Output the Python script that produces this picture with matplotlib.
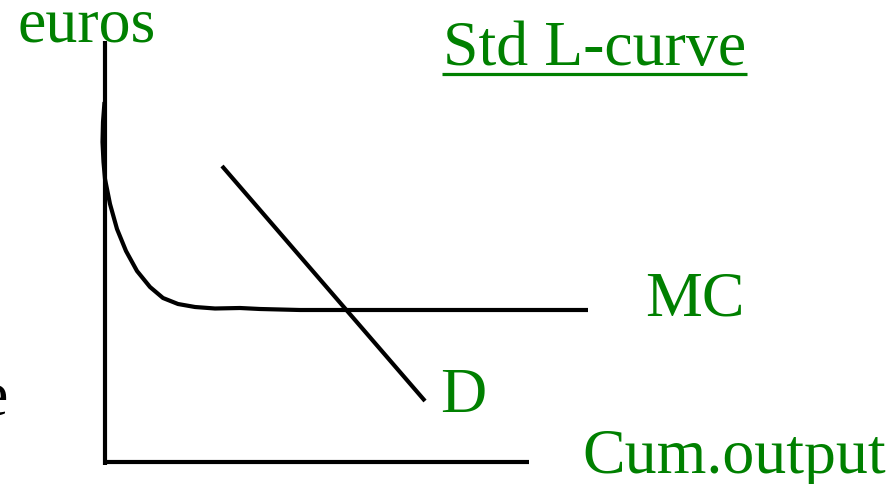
import matplotlib
matplotlib.use("Agg")
import matplotlib.pyplot as plt

# Diagram coordinates: origin at the corner of the axes, x = cumulative output, y = euros
mc_x = [-0.5, -2, -2.5, -1.5, 0, 5, 12, 21, 32, 45, 58, 73, 90, 110, 135, 155, 195, 483]
mc_y = [360, 340, 320, 300, 283, 258, 233, 211, 191, 175, 164, 158, 155, 153.5, 154, 153, 152, 152]

d_x = [117, 320]
d_y = [296, 61]

yaxis_x = [0, 0]
yaxis_y = [-3, 421]
xaxis_x = [0, 424]
xaxis_y = [0, 0]

green = "#008000"
serif = "Liberation Serif"

fig = plt.figure(figsize=(8.94, 4.85), dpi=100)
ax = fig.add_axes([0, 0, 1, 1])
ax.set_xlim(-105, 789)
ax.set_ylim(-22, 463)
ax.axis("off")

lw = 3
ax.plot(yaxis_x, yaxis_y, color="black", lw=lw, solid_capstyle="butt")
ax.plot(xaxis_x, xaxis_y, color="black", lw=lw, solid_capstyle="butt")
ax.plot(mc_x, mc_y, color="black", lw=lw, solid_capstyle="butt", solid_joinstyle="round")
ax.plot(d_x, d_y, color="black", lw=lw, solid_capstyle="butt")

fs = 46
ax.text(-87, 421, "euros", color=green, fontsize=fs, family=serif, va="baseline", ha="left")
ax.text(338, 398, "Std L-curve", color=green, fontsize=fs, family=serif, va="baseline", ha="left")
ax.plot([337, 642], [388, 388], color=green, lw=2.3, solid_capstyle="butt")
ax.text(540, 148, "MC", color=green, fontsize=fs, family=serif, va="baseline", ha="left")
ax.text(335, 51, "D", color=green, fontsize=fs, family=serif, va="baseline", ha="left")
ax.text(477, -10, "Cum.output", color=green, fontsize=fs, family=serif, va="baseline", ha="left")
ax.text(-125, 48, "e", color="black", fontsize=fs, family=serif, va="baseline", ha="left", clip_on=False)

fig.savefig("out.png", dpi=100)
